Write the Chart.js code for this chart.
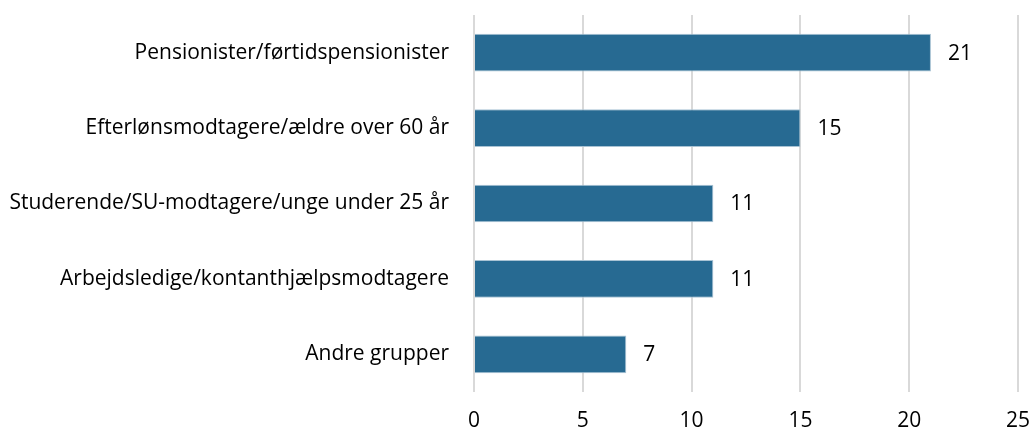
<!DOCTYPE html>
<html>
<head>
<meta charset="utf-8">
<script src="https://cdn.jsdelivr.net/npm/chart.js@4"></script>
<style>
  html, body { margin: 0; padding: 0; background: #fff; }
  #wrap { width: 1032px; height: 435px; }
</style>
</head>
<body>
<div id="wrap"><canvas id="groupChart"></canvas></div>
<script>
const categories = [
    'Pensionister/førtidspensionister',
    'Efterlønsmodtagere/ældre over 60 år',
    'Studerende/SU-modtagere/unge under 25 år',
    'Arbejdsledige/kontanthjælpsmodtagere',
    'Andre grupper'
];
const values = [21, 15, 11, 11, 7];
const xTicks = [0, 5, 10, 15, 20, 25];

const FONT = '"Open Sans", Lato, sans-serif';
const SIZE = 21;

// value labels to the right of each bar
const valueLabels = {
    id: 'value_labels',
    afterDatasetsDraw: (chart) => {
        const ctx = chart.ctx;
        const meta = chart.getDatasetMeta(0);
        ctx.save();
        ctx.font = SIZE + 'px ' + FONT;
        ctx.fillStyle = '#000';
        ctx.textBaseline = 'middle';
        ctx.textAlign = 'left';
        meta.data.forEach((bar, i) => {
            ctx.fillText(String(values[i]), bar.x + 17, bar.y + 1);
        });
        ctx.restore();
    }
};

new Chart(document.getElementById('groupChart'), {
    type: 'bar',
    data: {
        labels: categories,
        datasets: [{
            data: values,
            backgroundColor: '#276a92',
            borderColor: '#a9c3d4',
            borderWidth: 1,
            categoryPercentage: 1,
            barPercentage: 0.5
        }]
    },
    plugins: [valueLabels],
    options: {
        indexAxis: 'y',
        responsive: true,
        maintainAspectRatio: false,
        animation: false,
        layout: { padding: { top: 15, right: 0, bottom: 3, left: 0 } },
        plugins: {
            legend: { display: false },
            tooltip: { enabled: false }
        },
        scales: {
            x: {
                min: 0,
                max: 25,
                afterBuildTicks: (axis) => {
                    axis.ticks = xTicks.map(v => ({ value: v }));
                },
                afterFit: (axis) => {
                    axis.height = 40;
                    axis.paddingRight = 14;
                    axis.paddingLeft = 0;
                },
                grid: { color: '#d9d9d9', lineWidth: 2, drawTicks: false },
                border: { display: false },
                ticks: {
                    color: '#000',
                    padding: 16,
                    font: { family: FONT, size: SIZE }
                }
            },
            y: {
                afterFit: (axis) => {
                    axis.width = 474;
                    axis.paddingTop = 0;
                    axis.paddingBottom = 0;
                },
                grid: { display: false, drawTicks: false },
                border: { display: false },
                ticks: {
                    color: '#000',
                    padding: 25,
                    font: { family: FONT, size: SIZE }
                }
            }
        }
    }
});
</script>
</body>
</html>
